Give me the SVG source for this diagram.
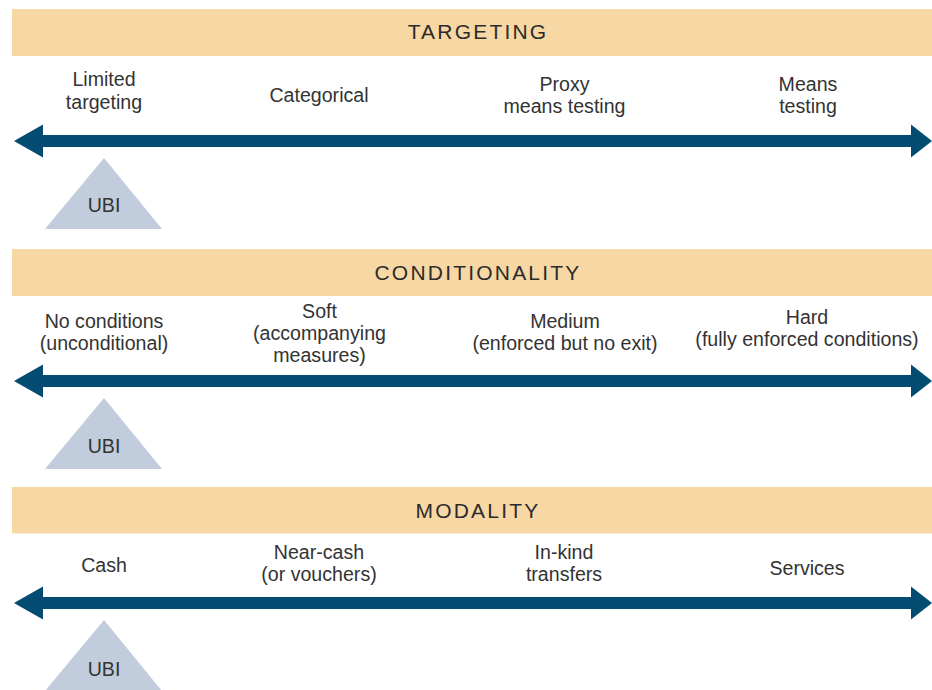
<svg xmlns="http://www.w3.org/2000/svg" width="932" height="690" viewBox="0 0 932 690">
  <style>
    .bar { fill: #F7D7A4; }
    .hdr { font-family: "Liberation Sans", Arial, sans-serif; font-size: 21px; letter-spacing: 2.2px; fill: #2b2b2b; text-anchor: middle; }
    .lbl { font-family: "Liberation Sans", Arial, sans-serif; font-size: 19.6px; fill: #333333; text-anchor: middle; }
    .arrow { fill: #034B71; }
    .tri { fill: #C1CCDC; }
  </style>
  <defs>
    <path id="dblArrow" d="M14,0 L43,-16.5 L43,-6 L911,-6 L911,-16.5 L932,0 L911,16.5 L911,6 L43,6 L43,16.5 Z"/>
    <polygon id="triShape" points="104,0 162,71 45,71"/>
  </defs>

  <!-- TARGETING -->
  <g id="targeting-header">
    <rect class="bar" x="12" y="9" width="920" height="47"/>
    <text class="hdr" x="478" y="38.5">TARGETING</text>
  </g>
  <g id="limited-targeting"><text class="lbl" x="104" y="86">Limited</text><text class="lbl" x="104" y="108.5">targeting</text></g>
  <g id="categorical"><text class="lbl" x="319" y="102">Categorical</text></g>
  <g id="proxy-means-testing"><text class="lbl" x="564.5" y="91">Proxy</text><text class="lbl" x="564.5" y="113">means testing</text></g>
  <g id="means-testing"><text class="lbl" x="808" y="91">Means</text><text class="lbl" x="808" y="113">testing</text></g>
  <g id="ubi-targeting">
    <use href="#triShape" class="tri" x="0" y="158"/>
    <text class="lbl" x="104" y="212">UBI</text>
  </g>

  <!-- CONDITIONALITY -->
  <g id="conditionality-header">
    <rect class="bar" x="12" y="249" width="920" height="47"/>
    <text class="hdr" x="478" y="280">CONDITIONALITY</text>
  </g>
  <g id="no-conditions"><text class="lbl" x="104" y="328">No conditions</text><text class="lbl" x="104" y="350">(unconditional)</text></g>
  <g id="soft"><text class="lbl" x="319.5" y="318">Soft</text><text class="lbl" x="319.5" y="340">(accompanying</text><text class="lbl" x="319.5" y="362">measures)</text></g>
  <g id="medium"><text class="lbl" x="565" y="327.5">Medium</text><text class="lbl" x="565" y="349.5">(enforced but no exit)</text></g>
  <g id="hard"><text class="lbl" x="807" y="324">Hard</text><text class="lbl" x="807" y="346">(fully enforced conditions)</text></g>
  <g id="ubi-conditionality">
    <use href="#triShape" class="tri" x="0" y="398"/>
    <text class="lbl" x="104" y="453">UBI</text>
  </g>

  <!-- MODALITY -->
  <g id="modality-header">
    <rect class="bar" x="12" y="487" width="920" height="46.5"/>
    <text class="hdr" x="478" y="518">MODALITY</text>
  </g>
  <g id="cash"><text class="lbl" x="104" y="571.5">Cash</text></g>
  <g id="near-cash"><text class="lbl" x="319" y="558.5">Near-cash</text><text class="lbl" x="319" y="580.5">(or vouchers)</text></g>
  <g id="in-kind"><text class="lbl" x="564" y="558.5">In-kind</text><text class="lbl" x="564" y="580.5">transfers</text></g>
  <g id="services"><text class="lbl" x="807" y="575">Services</text></g>
  <g id="ubi-modality">
    <use href="#triShape" class="tri" x="0" y="620"/>
    <text class="lbl" x="104" y="676">UBI</text>
  </g>

  <!-- connectors: double-headed spectrum arrows -->
  <g id="connectors">
    <use href="#dblArrow" class="arrow" x="0" y="141"/>
    <use href="#dblArrow" class="arrow" x="0" y="381"/>
    <use href="#dblArrow" class="arrow" x="0" y="603"/>
  </g>
</svg>
